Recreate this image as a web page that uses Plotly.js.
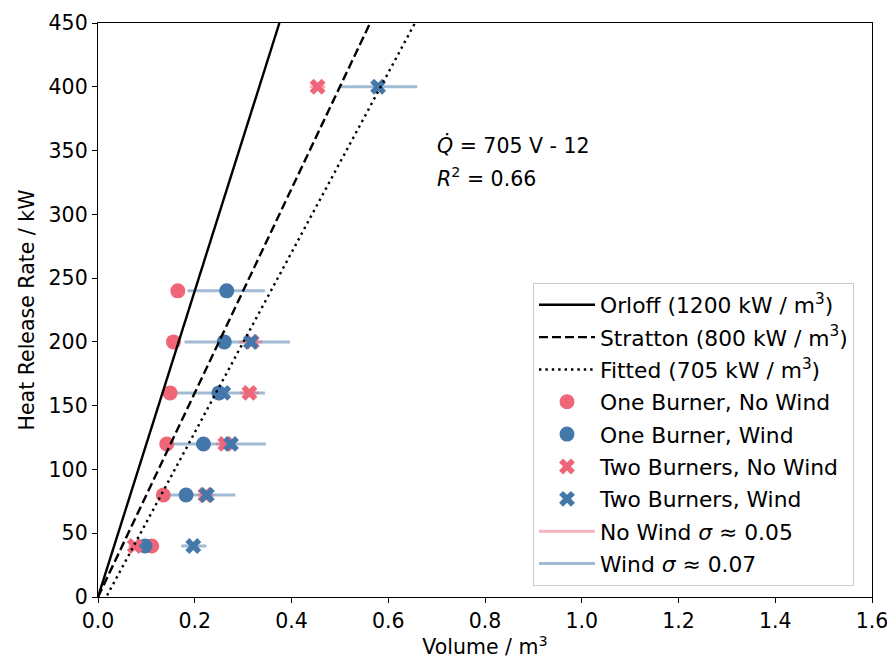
<!DOCTYPE html>
<html>
<head>
<meta charset="utf-8">
<script src="https://cdn.plot.ly/plotly-3.0.1.min.js"></script>
<style>html,body{margin:0;padding:0;background:#fff;}#chart{width:887px;height:662px;}</style>
</head>
<body>
<div id="chart"></div>
<script>
// Heat release rate levels (kW)
const hrr = [240, 200, 160, 120, 80, 40];
// One burner (circles)
const oneNoWindV = [0.165, 0.156, 0.149, 0.142, 0.135, 0.111];
const oneWindV   = [0.266, 0.261, 0.250, 0.218, 0.182, 0.097];
// Two burners (crosses)
const twoHrr      = [400, 200, 160, 120, 80, 40];
const twoNoWindV  = [0.454, 0.318, 0.313, 0.263, 0.222, 0.076];
const twoWindV    = [0.579, 0.316, 0.259, 0.275, 0.225, 0.197];
// Wind spread bars (centre and half width, m^3)
const windBarHrr    = [400, 240, 200, 160, 120, 80, 40, 40];
const windBarCentre = [0.579, 0.265, 0.288, 0.254, 0.248, 0.206, 0.198, 0.097];
const windBarHalf   = [0.081, 0.080, 0.109, 0.091, 0.099, 0.078, 0.026, 0.012];
// No-wind spread bars
const noWindBarHrr    = [400, 200, 160, 120, 80, 40];
const noWindBarCentre = [0.454, 0.316, 0.313, 0.262, 0.222, 0.093];
const noWindBarHalf   = [0.016, 0.024, 0.020, 0.018, 0.016, 0.030];
// Reference lines (end points)
const orloffV = [0, 0.375],  orloffQ = [0, 450];
const strattonV = [0, 0.5625], strattonQ = [0, 450];
const fittedV = [0, 0.655], fittedQ = [-12, 449.8];

const RED = '#EE6677', BLUE = '#4477AA';
const font = {family: 'DejaVu Sans, sans-serif', size: 20.5, color: '#000'};
const legFont = {family: 'DejaVu Sans, sans-serif', size: 21.8, color: '#000'};

const traces = [
  {x: windBarCentre, y: windBarHrr, mode: 'markers', type: 'scatter', showlegend: false, hoverinfo: 'skip',
   marker: {size: 1, opacity: 0},
   error_x: {type: 'data', array: windBarHalf, symmetric: true, color: 'rgba(68,119,170,0.5)', thickness: 3, width: 0}},
  {x: noWindBarCentre, y: noWindBarHrr, mode: 'markers', type: 'scatter', showlegend: false, hoverinfo: 'skip',
   marker: {size: 1, opacity: 0},
   error_x: {type: 'data', array: noWindBarHalf, symmetric: true, color: 'rgba(238,102,119,0.5)', thickness: 3, width: 0}},
  {x: oneNoWindV, y: hrr, mode: 'markers', type: 'scatter', name: 'One Burner, No Wind', legendrank: 4, legendgroup: 'g4',
   marker: {color: RED, size: 15, symbol: 'circle'}},
  {x: oneWindV, y: hrr, mode: 'markers', type: 'scatter', name: 'One Burner, Wind', legendrank: 5, legendgroup: 'g5',
   marker: {color: BLUE, size: 15, symbol: 'circle'}},
  {x: twoNoWindV, y: twoHrr, mode: 'markers', type: 'scatter', name: 'Two Burners, No Wind', legendrank: 6, legendgroup: 'g6',
   marker: {color: RED, size: 14, symbol: 'x'}},
  {x: twoWindV, y: twoHrr, mode: 'markers', type: 'scatter', name: 'Two Burners, Wind', legendrank: 7, legendgroup: 'g7',
   marker: {color: BLUE, size: 14, symbol: 'x'}},
  {x: orloffV, y: orloffQ, mode: 'lines', type: 'scatter', name: 'Orloff (1200 kW / m<sup>3</sup>)', legendrank: 1, legendgroup: 'g1',
   line: {color: '#000', width: 2.4, dash: 'solid'}},
  {x: strattonV, y: strattonQ, mode: 'lines', type: 'scatter', name: 'Stratton (800 kW / m<sup>3</sup>)', legendrank: 2, legendgroup: 'g2',
   line: {color: '#000', width: 2.4, dash: '9px,4px'}},
  {x: fittedV, y: fittedQ, mode: 'lines', type: 'scatter', name: 'Fitted (705 kW / m<sup>3</sup>)', legendrank: 3, legendgroup: 'g3',
   line: {color: '#000', width: 2.4, dash: '2.4px,4px'}},
  {x: [null], y: [null], mode: 'lines', type: 'scatter', name: 'No Wind <i>σ</i> ≈ 0.05', legendrank: 8, legendgroup: 'g8',
   line: {color: 'rgba(238,102,119,0.5)', width: 3}},
  {x: [null], y: [null], mode: 'lines', type: 'scatter', name: 'Wind <i>σ</i> ≈ 0.07', legendrank: 9, legendgroup: 'g9',
   line: {color: 'rgba(68,119,170,0.5)', width: 3}}
];

const axisCommon = {
  showgrid: false, zeroline: false, showline: true, mirror: true, linecolor: '#000', linewidth: 1.2,
  ticks: 'outside', ticklen: 5, tickwidth: 1, tickcolor: '#000', tickfont: font, ticklabeloverflow: 'allow'
};

const layout = {
  width: 887, height: 662,
  margin: {l: 98, r: 15, t: 23, b: 65},
  paper_bgcolor: '#fff', plot_bgcolor: '#fff',
  font: font,
  xaxis: Object.assign({}, axisCommon, {range: [0, 1.6], dtick: 0.2, tickformat: '.1f',
    title: {text: 'Volume / m<sup>3</sup>', font: font, standoff: 4}}),
  yaxis: Object.assign({}, axisCommon, {range: [0, 450], dtick: 50,
    title: {text: 'Heat Release Rate / kW', font: font, standoff: 8}}),
  legend: {x: 0.562, y: 0.019, xanchor: 'left', yanchor: 'bottom', bgcolor: 'rgba(255,255,255,0.85)',
    bordercolor: '#cccccc', borderwidth: 1, font: legFont, tracegroupgap: 1, itemwidth: 56},
  annotations: [
    {x: 0.697, y: 354, xref: 'x', yref: 'y', xanchor: 'left', yanchor: 'middle', showarrow: false, align: 'left',
     text: '<i>Q̇</i> = 705 V - 12', font: font},
    {x: 0.697, y: 329, xref: 'x', yref: 'y', xanchor: 'left', yanchor: 'middle', showarrow: false, align: 'left',
     text: '<i>R</i><sup>2</sup> = 0.66', font: font}
  ]
};

Plotly.newPlot('chart', traces, layout, {displayModeBar: false, staticPlot: true});
</script>
</body>
</html>
